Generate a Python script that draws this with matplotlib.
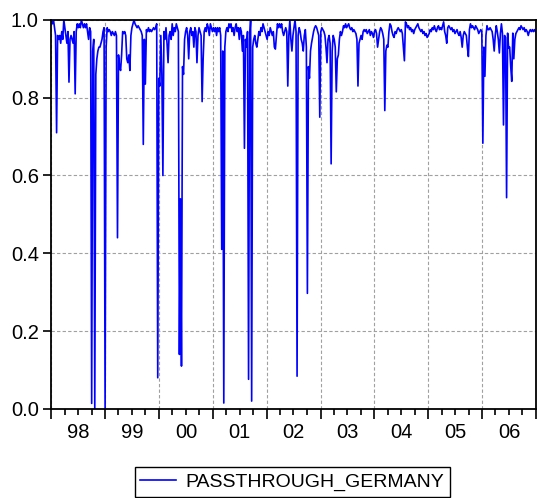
import numpy as np
import pandas as pd
import matplotlib
matplotlib.use('Agg')
import matplotlib.pyplot as plt
import matplotlib.dates as mdates
from matplotlib.ticker import FormatStrFormatter, NullFormatter

plt.rcParams['font.family'] = ['Liberation Sans', 'DejaVu Sans']

# weekly pass-through ratio, one list per calendar year (Friday observations)
v1998 = [1.0, 0.99, 1.0, 0.98, 0.96, 0.71, 0.96, 0.95, 0.96, 0.94,
         0.97, 0.95, 1.0, 0.98, 0.96, 0.94, 0.97, 0.84, 0.95, 0.96,
         0.95, 0.94, 0.97, 0.81, 0.97, 0.99, 0.98, 0.99, 0.98, 1.0,
         0.99, 0.98, 0.99, 0.98, 0.99, 0.97, 0.95, 0.98, 0.97, 0.014,
         0.92, 0.95, 0.0, 0.86, 0.90, 0.92, 0.93, 0.93, 0.94, 0.95,
         0.97, 0.98]
v1999 = [0.0, 0.93, 0.98, 0.97, 0.975, 0.97, 0.96, 0.97, 0.965, 0.96,
         0.97, 0.96, 0.44, 0.91, 0.88, 0.87, 0.91, 0.97, 0.965, 0.97,
         0.96, 0.90, 0.89, 0.91, 0.87, 0.96, 0.98, 0.99, 1.0, 0.99,
         0.985, 0.98, 0.985, 0.98, 0.975, 0.97, 0.96, 0.68, 0.95, 0.835,
         0.975, 0.97, 0.98, 0.97, 0.975, 0.97, 0.975, 0.98, 0.975, 0.98,
         0.99, 0.08, 0.85]
v2000 = [0.83, 0.96, 0.86, 0.60, 0.97, 0.95, 0.98, 0.94, 0.89, 0.96,
         0.97, 0.95, 0.99, 0.96, 0.98, 0.97, 0.99, 0.98, 0.97, 0.14,
         0.54, 0.11, 0.88, 0.86, 0.95, 0.97, 0.98, 0.96, 0.90, 0.97,
         0.98, 0.96, 0.97, 0.93, 0.98, 0.97, 0.89, 0.96, 0.98, 0.97,
         0.96, 0.79, 0.90, 0.97, 0.98, 0.97, 0.99, 0.98, 0.96, 0.99,
         0.98, 0.97]
v2001 = [0.98, 0.97, 0.98, 0.96, 0.98, 0.97, 0.98, 0.96, 0.41, 0.92,
         0.015, 0.93, 0.97, 0.98, 0.97, 0.99, 0.98, 0.99, 0.97, 0.98,
         0.96, 0.98, 0.99, 0.97, 0.98, 0.95, 0.98, 0.97, 0.92, 0.96,
         0.67, 0.95, 0.93, 0.97, 0.076, 0.95, 1.0, 0.02, 0.93, 0.95,
         0.96, 0.94, 0.93, 0.95, 0.97, 0.96, 0.98, 0.97, 0.99, 0.98,
         0.97, 0.96]
v2002 = [0.95, 0.97, 0.96, 0.98, 0.97, 0.96, 0.97, 0.93, 0.925, 0.96,
         0.99, 0.98, 0.99, 0.98, 0.99, 0.97, 0.96, 0.97, 0.98, 0.97,
         0.83, 0.96, 1.0, 0.95, 0.92, 0.96, 0.98, 1.0, 0.97, 0.084,
         0.96, 0.98, 0.97, 0.95, 0.94, 0.92, 0.96, 0.975, 0.93, 0.297,
         0.88, 0.85, 0.92, 0.94, 0.955, 0.97, 0.98, 0.985, 0.98, 0.97,
         0.96, 0.75]
v2003 = [0.97, 0.98, 0.975, 0.97, 0.96, 0.93, 0.89, 0.95, 0.96, 0.94,
         0.63, 0.92, 0.96, 0.95, 0.93, 0.815, 0.90, 0.91, 0.95, 0.97,
         0.96, 0.97, 0.985, 0.98, 0.99, 0.98, 0.985, 0.99, 0.98, 0.975,
         0.98, 0.97, 0.975, 0.97, 0.965, 0.95, 0.83, 0.94, 0.95, 0.96,
         0.95, 0.97, 0.975, 0.97, 0.975, 0.965, 0.97, 0.975, 0.96, 0.97,
         0.965, 0.955]
v2004 = [0.97, 0.975, 0.965, 0.93, 0.95, 0.97, 0.98, 0.975, 0.965, 0.95,
         0.767, 0.92, 0.935, 0.93, 0.97, 0.99, 0.985, 0.97, 0.96, 0.955,
         0.97, 0.965, 0.975, 0.98, 0.975, 0.97, 0.975, 0.965, 0.93, 0.895,
         0.995, 0.99, 0.98, 0.985, 0.975, 0.98, 0.97, 0.975, 0.965, 0.975,
         0.98, 0.985, 0.99, 0.98, 0.975, 0.97, 0.975, 0.965, 0.97, 0.96,
         0.965, 0.955, 0.96]
v2005 = [0.965, 0.975, 0.97, 0.98, 0.975, 0.985, 0.975, 0.97, 0.98, 0.985,
         0.975, 0.98, 0.975, 0.985, 0.995, 0.97, 0.96, 0.94, 0.98, 0.985,
         0.98, 0.975, 0.98, 0.97, 0.975, 0.965, 0.97, 0.975, 0.965, 0.96,
         0.97, 0.955, 0.93, 0.96, 0.97, 0.965, 0.96, 0.93, 0.906, 0.975,
         0.99, 0.98, 0.985, 0.98, 0.975, 0.985, 0.98, 0.975, 0.965, 0.97,
         0.975, 0.97]
v2006 = [0.683, 0.93, 0.855, 0.96, 0.985, 0.975, 0.975, 0.98, 0.975, 0.97,
         0.95, 0.92, 0.96, 0.985, 0.97, 0.95, 0.915, 0.965, 0.99, 0.965,
         0.73, 0.96, 0.955, 0.543, 0.966, 0.928, 0.93, 0.88, 0.842, 0.966,
         0.90, 0.95, 0.965, 0.97, 0.975, 0.98, 0.975, 0.985, 0.98, 0.975,
         0.98, 0.97, 0.975, 0.97, 0.96, 0.97, 0.975, 0.97, 0.975, 0.97,
         0.975, 0.97]

year_labels = ['98', '99', '00', '01', '02', '03', '04', '05', '06']
series_name = 'PASSTHROUGH_GERMANY'

passthrough = np.array(v1998 + v1999 + v2000 + v2001 + v2002 +
                       v2003 + v2004 + v2005 + v2006)
dates = pd.date_range('1998-01-02', '2006-12-29', freq='W-FRI')

fig = plt.figure(figsize=(5.37, 4.98), dpi=100)
ax = fig.add_axes([0.0955, 0.179, 0.9025, 0.781])

ax.plot(dates, passthrough, color='#0000ff', lw=1.2, label=series_name)

ax.set_xlim(pd.Timestamp('1998-01-01'), pd.Timestamp('2007-01-01'))
ax.set_ylim(0, 1.0)
ax.set_yticks(np.arange(0, 1.01, 0.2))
ax.yaxis.set_major_formatter(FormatStrFormatter('%.1f'))

ax.xaxis.set_major_locator(mdates.YearLocator())
ax.xaxis.set_minor_locator(mdates.MonthLocator(bymonth=[4, 7, 10]))
ax.xaxis.set_major_formatter(NullFormatter())

ax.tick_params(axis='x', which='major', length=7, width=1.2, direction='out')
ax.tick_params(axis='x', which='minor', length=4.5, width=1.2, direction='out')
ax.tick_params(axis='y', length=6, width=1.2, pad=3, labelsize=14.5)

for s in ax.spines.values():
    s.set_linewidth(1.3)

ax.grid(True, which='major', color='#a0a0a0', ls=(0, (3, 2)), lw=0.8)

# year labels sit in the middle of each year
for i, lab in enumerate(year_labels):
    ax.text(pd.Timestamp(1998 + i, 7, 2), -0.062, lab, transform=ax.get_xaxis_transform(),
            ha='center', va='center', fontsize=14.5)

leg = fig.legend(loc='upper center', bbox_to_anchor=(0.544, 0.062), fontsize=14,
                 fancybox=False, edgecolor='black', framealpha=1, borderpad=0.3,
                 handlelength=1.85, handletextpad=0.45, borderaxespad=0)
leg.get_frame().set_linewidth(1.0)

fig.savefig('out.png', dpi=100)
